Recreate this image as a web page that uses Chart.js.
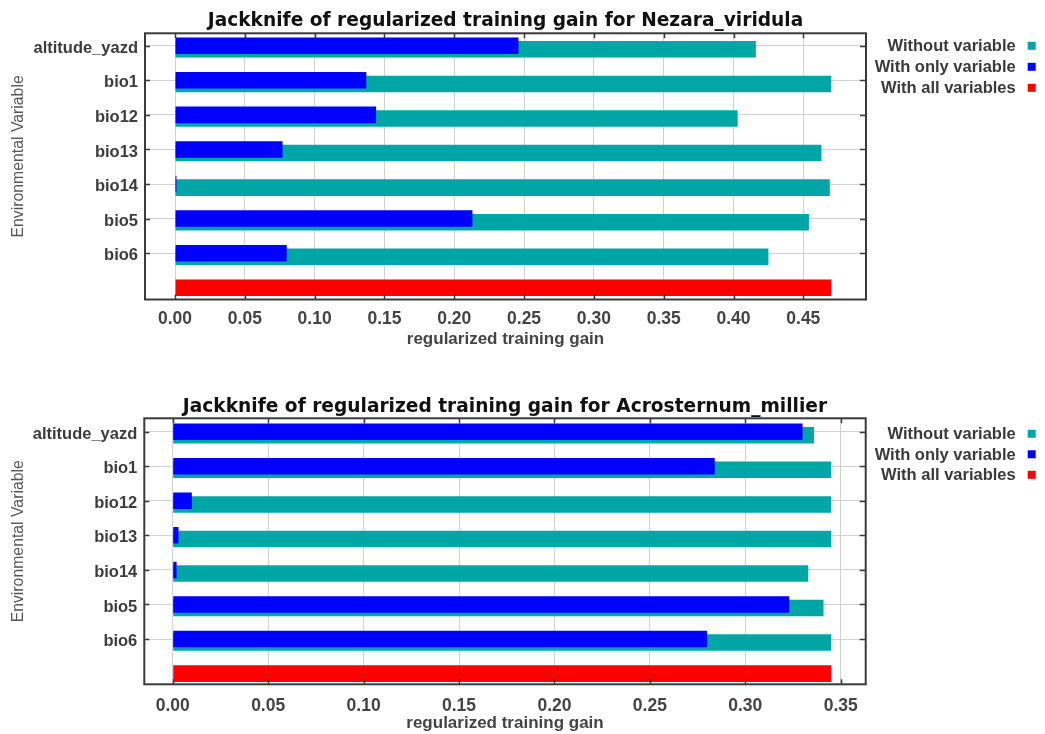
<!DOCTYPE html>
<html>
<head>
<meta charset="utf-8">
<title>Jackknife of regularized training gain</title>
<script src="https://cdn.jsdelivr.net/npm/chart.js@4.4.1/dist/chart.umd.min.js"></script>
<style>
  html, body { margin: 0; padding: 0; background: #ffffff; }
  body { width: 1045px; height: 734px; position: relative; overflow: hidden; }
  .panel { position: absolute; left: 0; width: 1045px; height: 367px; }
  #panelNezara { top: 0; }
  #panelAcro { top: 367px; }
</style>
</head>
<body>
<div class="panel" id="panelNezara"><canvas id="chartNezara"></canvas></div>
<div class="panel" id="panelAcro"><canvas id="chartAcro"></canvas></div>
<script>
// ---- data ----
const variables = ['altitude_yazd', 'bio1', 'bio12', 'bio13', 'bio14', 'bio5', 'bio6'];
const seriesLabels = ['Without variable', 'With only variable', 'With all variables'];

const nezaraTitle = 'Jackknife of regularized training gain for Nezara_viridula';
const nezaraWithout  = [0.416, 0.470, 0.403, 0.463, 0.469, 0.454, 0.425];
const nezaraWithOnly = [0.246, 0.137, 0.144, 0.077, 0.001, 0.213, 0.080];
const nezaraAll = 0.470;
const nezaraTicks = [0.00, 0.05, 0.10, 0.15, 0.20, 0.25, 0.30, 0.35, 0.40, 0.45];

const acroTitle = 'Jackknife of regularized training gain for Acrosternum_millier';
const acroWithout  = [0.336, 0.345, 0.345, 0.345, 0.333, 0.341, 0.345];
const acroWithOnly = [0.330, 0.284, 0.010, 0.003, 0.002, 0.323, 0.280];
const acroAll = 0.345;
const acroTicks = [0.00, 0.05, 0.10, 0.15, 0.20, 0.25, 0.30, 0.35];

const axisTitleX = 'regularized training gain';
const axisTitleY = 'Environmental Variable';

// ---- styling ----
const COLORS = { without: '#00a6a6', withOnly: '#0000ff', all: '#ff0000' };
const SANS = '"Liberation Sans", Arial, sans-serif';
Chart.defaults.font.family = SANS;
Chart.defaults.animation = false;

// frame around the plot with short inward tick marks on all four sides
const framePlugin = {
  id: 'frame',
  afterDatasetsDraw(chart) {
    const { ctx, chartArea: a, scales: { x, y } } = chart;
    ctx.save();
    ctx.strokeStyle = '#3a3a3a';
    ctx.lineWidth = 1.5;
    ctx.beginPath();
    x.ticks.forEach(t => {
      const px = Math.round(x.getPixelForValue(t.value)) + 0.5;
      ctx.moveTo(px, a.top); ctx.lineTo(px, a.top + 5);
      ctx.moveTo(px, a.bottom); ctx.lineTo(px, a.bottom - 5);
    });
    y.ticks.forEach(t => {
      const py = Math.round(y.getPixelForValue(t.value)) + 0.5;
      ctx.moveTo(a.left, py); ctx.lineTo(a.left + 5, py);
      ctx.moveTo(a.right, py); ctx.lineTo(a.right - 6, py);
    });
    ctx.stroke();
    ctx.lineWidth = 2;
    ctx.strokeRect(a.left, a.top, a.right - a.left, a.bottom - a.top);
    ctx.restore();
  }
};

// chart title, rotated y-axis title and the right-hand legend
const decorPlugin = {
  id: 'decor',
  afterDraw(chart, args, o) {
    const { ctx, chartArea: a } = chart;
    ctx.save();
    ctx.textBaseline = 'middle';

    ctx.font = 'bold 18.6px "DejaVu Sans", sans-serif';
    ctx.fillStyle = '#111111';
    ctx.textAlign = 'center';
    ctx.fillText(o.title, (a.left + a.right) / 2, a.top - o.titleGap);

    ctx.save();
    ctx.translate(o.yTitleX, (a.top + a.bottom) / 2 - 10);
    ctx.rotate(-Math.PI / 2);
    ctx.font = '15.8px ' + SANS;
    ctx.fillStyle = '#555555';
    ctx.fillText(axisTitleY, 0, 0);
    ctx.restore();

    ctx.font = 'bold 16.5px ' + SANS;
    ctx.textAlign = 'right';
    o.legendOrder.forEach((di, i) => {
      const ds = chart.data.datasets[di];
      const cy = a.top + o.legendY0 + i * o.legendStep;
      ctx.fillStyle = '#3a3a3a';
      ctx.fillText(ds.label, o.legendTextRight, cy);
      ctx.fillStyle = ds.backgroundColor;
      ctx.fillRect(o.legendTextRight + 12, cy - 5, 8, 8);
    });
    ctx.restore();
  }
};

function buildChart(canvasId, cfg) {
  const n = variables.length;
  const pad = v => v.concat([null]);
  const toPoints = arr => arr.map((v, i) => ({ x: v, y: i }));
  const allRow = new Array(n).fill(null).concat([cfg.all]);

  // Each row is a group of three slots (all / with only / without); the "all"
  // slot is empty on variable rows, so the paired bars sit just below the tick.
  // On the last row only the "all" bar exists and it takes the whole group.
  const datasets = [
    { label: seriesLabels[2], data: toPoints(allRow), backgroundColor: COLORS.all,
      order: 0, skipNull: true, categoryPercentage: 0.312, barPercentage: 1.55, borderWidth: 0 },
    { label: seriesLabels[1], data: toPoints(pad(cfg.withOnly)), backgroundColor: COLORS.withOnly,
      order: 1, skipNull: false, categoryPercentage: 0.312, barPercentage: 4.6, borderWidth: 0 },
    { label: seriesLabels[0], data: toPoints(pad(cfg.without)), backgroundColor: COLORS.without,
      order: 2, skipNull: false, categoryPercentage: 0.312, barPercentage: 4.6, borderWidth: 0 }
  ];

  return new Chart(document.getElementById(canvasId), {
    type: 'bar',
    data: { datasets },
    options: {
      indexAxis: 'y',
      responsive: true,
      maintainAspectRatio: false,
      layout: { padding: cfg.padding },
      plugins: {
        legend: { display: false },
        title: { display: false },
        tooltip: { enabled: false },
        decor: cfg.decor
      },
      scales: {
        x: {
          type: 'linear',
          position: 'bottom',
          bounds: 'data',
          offset: false,
          min: cfg.xMin,
          max: cfg.xMax,
          afterFit: s => { s.height = cfg.xAxisHeight; },
          afterBuildTicks: s => { s.ticks = cfg.ticks.map(v => ({ value: v })); },
          border: { display: false },
          grid: { color: '#d2d2d2', lineWidth: 1, drawTicks: false },
          ticks: {
            padding: cfg.xTickPad,
            color: '#444444',
            font: { size: 17.5, weight: 'bold' },
            callback: v => Number(v).toFixed(2)
          },
          title: {
            display: true,
            text: axisTitleX,
            color: '#444444',
            font: { size: 17, weight: 'bold' },
            padding: { top: 0, bottom: cfg.xTitlePad }
          }
        },
        y: {
          type: 'linear',
          position: 'left',
          reverse: true,
          bounds: 'data',
          offset: false,
          min: cfg.yMin,
          max: cfg.yMax,
          afterFit: s => { s.width = cfg.yAxisWidth; },
          afterBuildTicks: s => { s.ticks = variables.map((_, i) => ({ value: i })); },
          border: { display: false },
          grid: { color: '#d2d2d2', lineWidth: 1, drawTicks: false, offset: false },
          ticks: {
            padding: 7,
            labelOffset: 2.5,
            color: '#3c3c3c',
            font: { size: 16.5, weight: 'bold' },
            callback: v => variables[v] ?? ''
          }
        }
      }
    },
    plugins: [framePlugin, decorPlugin]
  });
}

buildChart('chartNezara', {
  without: nezaraWithout, withOnly: nezaraWithOnly, all: nezaraAll, ticks: nezaraTicks,
  xMin: -0.0215, xMax: 0.4949, yMin: -0.36, yMax: 7.34,
  yAxisWidth: 145, xAxisHeight: 50, xTickPad: 9, xTitlePad: 0,
  padding: { top: 33.3, left: 0, right: 179, bottom: 17.5 },
  decor: { title: nezaraTitle, titleGap: 12, yTitleX: 18.7, legendOrder: [2, 1, 0],
           legendY0: 13.5, legendStep: 21, legendTextRight: 1015.7 }
});

buildChart('chartAcro', {
  without: acroWithout, withOnly: acroWithOnly, all: acroAll, ticks: acroTicks,
  xMin: -0.0149, xMax: 0.3631, yMin: -0.388, yMax: 7.311,
  yAxisWidth: 144.3, xAxisHeight: 49.7, xTickPad: 11, xTitlePad: 0.4,
  padding: { top: 51.3, left: 0, right: 179.3, bottom: 0 },
  decor: { title: acroTitle, titleGap: 11.3, yTitleX: 18.7, legendOrder: [2, 1, 0],
           legendY0: 16.5, legendStep: 20.5, legendTextRight: 1015.7 }
});
</script>
</body>
</html>
